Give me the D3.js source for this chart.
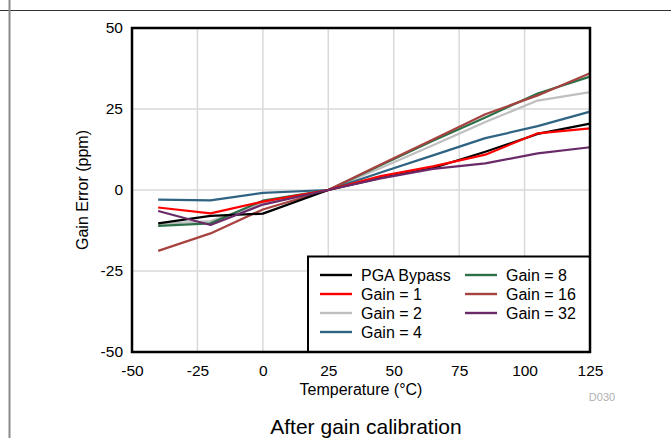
<!DOCTYPE html>
<html>
<head>
<meta charset="utf-8">
<script src="https://cdn.jsdelivr.net/npm/d3@7"></script>
<style>
  body { margin: 0; background: #fff; }
  svg text { font-family: "Liberation Sans", Arial, sans-serif; fill: #000; }
</style>
</head>
<body>
<div id="chart"></div>
<script>
// temperatures where gain error was measured
const temps = [-40, -20, 0, 25, 45, 65, 85, 105, 125];

// gain error (ppm) per PGA setting
const pgaBypass = [-10.3, -8.0, -7.3, 0, 3.7, 6.8, 11.8, 17.3, 20.5];
const gain1 = [-5.4, -7.2, -3.6, 0, 4.3, 7.3, 10.9, 17.5, 19.0];
const gain2 = [-10.5, -9.6, -4.0, 0, 6.8, 13.8, 21.0, 27.6, 30.2];
const gain4 = [-3.0, -3.2, -0.9, 0, 5.4, 10.7, 16.0, 19.7, 24.2];
const gain8 = [-11.1, -10.3, -3.3, 0, 7.6, 15.2, 22.4, 29.8, 35.0];
const gain16 = [-18.8, -13.4, -6.0, 0, 7.9, 15.6, 23.4, 29.2, 36.0];
const gain32 = [-6.5, -10.8, -4.5, 0, 3.6, 6.5, 8.2, 11.3, 13.2];

// tick labels
const xTicks = [-50, -25, 0, 25, 50, 75, 100, 125];
const yTicks = [-50, -25, 0, 25, 50];

const series = [
    { name: "PGA Bypass", values: pgaBypass, color: "#000000" },
    { name: "Gain = 1", values: gain1, color: "#ff0000" },
    { name: "Gain = 2", values: gain2, color: "#bfbfbf" },
    { name: "Gain = 4", values: gain4, color: "#2f6382" },
    { name: "Gain = 8", values: gain8, color: "#2c7048" },
    { name: "Gain = 16", values: gain16, color: "#a6423f" },
    { name: "Gain = 32", values: gain32, color: "#6a2a68" }
];
// drawing order (last on top)
const drawOrder = [2, 3, 4, 5, 0, 1, 6];

const w = 671;
const h = 438;
const plot = { left: 132, right: 590, top: 28, bottom: 352 };

const svg = d3.select("#chart")
              .append("svg")
              .attr("width", w)
              .attr("height", h);

// page decoration lines
svg.append("line")
   .attr("x1", 0).attr("x2", w).attr("y1", 10.5).attr("y2", 10.5)
   .attr("stroke", "#333").attr("stroke-width", 1);
svg.append("line")
   .attr("x1", 9.5).attr("x2", 9.5).attr("y1", 0).attr("y2", h)
   .attr("stroke", "#8a8a8a").attr("stroke-width", 2);

const xScale = d3.scaleLinear().domain([-50, 125]).range([plot.left, plot.right]);
const yScale = d3.scaleLinear().domain([-50, 50]).range([plot.bottom, plot.top]);

// grid
svg.append("g")
   .selectAll("line")
   .data(xTicks.slice(1, -1))
   .enter()
   .append("line")
   .attr("x1", d => xScale(d)).attr("x2", d => xScale(d))
   .attr("y1", plot.top).attr("y2", plot.bottom)
   .attr("stroke", "#d9d9d9").attr("stroke-width", 1.5);
svg.append("g")
   .selectAll("line")
   .data(yTicks.slice(1, -1))
   .enter()
   .append("line")
   .attr("x1", plot.left).attr("x2", plot.right)
   .attr("y1", d => yScale(d)).attr("y2", d => yScale(d))
   .attr("stroke", "#d9d9d9").attr("stroke-width", 1.5);

// axes (plain hyphen for negatives, like the original)
const fmt = d => String(d);
const xAxis = svg.append("g")
   .attr("transform", `translate(0,${plot.bottom})`)
   .call(d3.axisBottom(xScale).tickValues(xTicks).tickSize(0).tickPadding(13).tickFormat(fmt));
const yAxis = svg.append("g")
   .attr("transform", `translate(${plot.left},0)`)
   .call(d3.axisLeft(yScale).tickValues(yTicks).tickSize(0).tickPadding(9).tickFormat(fmt));
[xAxis, yAxis].forEach(a => {
    a.select(".domain").remove();
    a.selectAll("text")
     .style("font-family", "'Liberation Sans', Arial, sans-serif")
     .style("font-size", "15.5px")
     .attr("fill", "#000");
});

// lines
const line = d3.line()
               .x((d, i) => xScale(temps[i]))
               .y(d => yScale(d));

svg.append("g")
   .selectAll("path")
   .data(drawOrder.map(i => series[i]))
   .enter()
   .append("path")
   .attr("d", d => line(d.values))
   .attr("fill", "none")
   .attr("stroke", d => d.color)
   .attr("stroke-width", 2.2)
   .attr("stroke-linejoin", "round");

// legend
const legend = svg.append("g");
legend.append("rect")
      .attr("x", 308).attr("y", 256.5)
      .attr("width", plot.right - 308).attr("height", plot.bottom - 256.5)
      .attr("fill", "#fff").attr("stroke", "#000").attr("stroke-width", 2);

const legendPos = (d, i) => {
    const col = i < 4 ? 0 : 1;
    const row = i < 4 ? i : i - 4;
    return { x: col === 0 ? 320 : 465, y: 275 + row * 19 };
};
const items = legend.selectAll("g.item")
      .data(series)
      .enter()
      .append("g")
      .attr("class", "item")
      .attr("transform", (d, i) => {
          const p = legendPos(d, i);
          return `translate(${p.x},${p.y})`;
      });
items.append("line")
     .attr("x1", 0).attr("x2", 32).attr("y1", 0).attr("y2", 0)
     .attr("stroke", d => d.color).attr("stroke-width", 2.4);
items.append("text")
     .attr("x", 41).attr("y", 0).attr("dy", "0.35em")
     .style("font-size", "16px")
     .text(d => d.name);

// frame
svg.append("rect")
   .attr("x", plot.left).attr("y", plot.top)
   .attr("width", plot.right - plot.left).attr("height", plot.bottom - plot.top)
   .attr("fill", "none").attr("stroke", "#000").attr("stroke-width", 2.5);

// titles
svg.append("text")
   .attr("x", (plot.left + plot.right) / 2).attr("y", 395)
   .attr("text-anchor", "middle")
   .style("font-size", "16px")
   .text("Temperature (°C)");

svg.append("text")
   .attr("transform", `translate(88,${(plot.top + plot.bottom) / 2}) rotate(-90)`)
   .attr("text-anchor", "middle")
   .style("font-size", "16px")
   .text("Gain Error (ppm)");

svg.append("text")
   .attr("x", 602).attr("y", 401)
   .attr("text-anchor", "middle")
   .style("font-size", "11px")
   .style("fill", "#b0b0b0")
   .text("D030");

svg.append("text")
   .attr("x", 366).attr("y", 434)
   .attr("text-anchor", "middle")
   .style("font-size", "21px")
   .text("After gain calibration");
</script>
</body>
</html>
